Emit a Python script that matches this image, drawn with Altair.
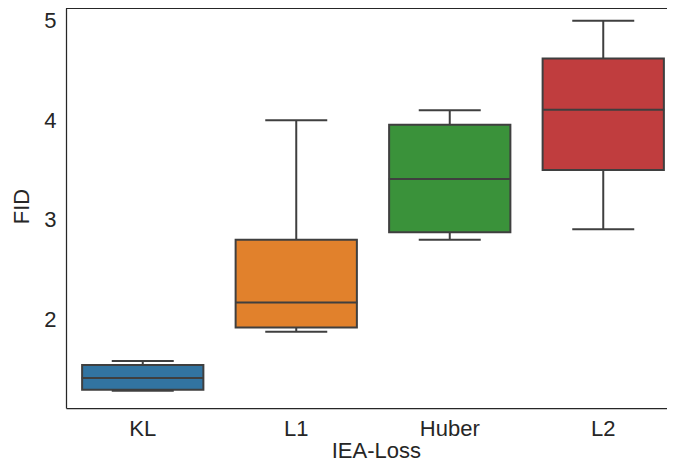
import altair as alt
import pandas as pd

categories = ["KL", "L1", "Huber", "L2"]
mins = [1.285, 1.877, 2.80, 2.906]
q1s = [1.294, 1.92, 2.876, 3.50]
medians = [1.411, 2.17, 3.41, 4.105]
q3s = [1.543, 2.80, 3.955, 4.62]
maxs = [1.583, 4.00, 4.10, 5.00]
colors = ["#3274a1", "#e1812c", "#3a923a", "#c03d3e"]
y_ticks = [2, 3, 4, 5]

df = pd.DataFrame({
    "loss": categories,
    "min": mins,
    "q1": q1s,
    "med": medians,
    "q3": q3s,
    "max": maxs,
})

line_col = "#3f3f3f"
text_col = "#262626"
FS = 22
W = 612       # plot width; its right edge lies past the window edge
XRANGE = 614  # full band range
H = 400

x = alt.X(
    "loss:N",
    sort=categories,
    scale=alt.Scale(paddingInner=0, paddingOuter=0, range=[0, XRANGE]),
    axis=alt.Axis(
        title="IEA-Loss", labelAngle=0, tickSize=0, ticks=False, labelPadding=10,
        domain=True, domainColor=text_col, domainWidth=1.25, grid=False,
        titleX=309.8, titleY=49, titleBaseline="alphabetic",
    ),
)
yscale = alt.Scale(domain=[1.111, 5.127], nice=False, zero=False)
yaxis = alt.Axis(
    title="FID", values=y_ticks, tickSize=0, ticks=False, labelPadding=10,
    domain=True, domainColor=text_col, domainWidth=1.25, grid=False,
    titleX=-38, titleY=198, titleBaseline="alphabetic",
)

base = alt.Chart(df)

top_frame = base.mark_rule(color=text_col, strokeWidth=1.25).encode(
    y=alt.value(0), x=alt.value(0), x2=alt.value(XRANGE)
)
whisker = base.mark_rule(color=line_col, strokeWidth=2).encode(
    x=x, y=alt.Y("min:Q", scale=yscale, axis=yaxis), y2="max:Q"
)
box = base.mark_bar(
    stroke=line_col, strokeWidth=2, width=alt.RelativeBandSize(0.79), opacity=1
).encode(
    x=x,
    y=alt.Y("q1:Q", scale=yscale, axis=yaxis),
    y2="q3:Q",
    color=alt.Color("loss:N", scale=alt.Scale(domain=categories, range=colors), legend=None),
)
cap_lo = base.mark_tick(color=line_col, thickness=2, size=62, opacity=1).encode(
    x=x, y=alt.Y("min:Q", scale=yscale, axis=yaxis)
)
cap_hi = base.mark_tick(color=line_col, thickness=2, size=62, opacity=1).encode(
    x=x, y=alt.Y("max:Q", scale=yscale, axis=yaxis)
)
median = base.mark_tick(color=line_col, thickness=2, size=122, opacity=1).encode(
    x=x, y=alt.Y("med:Q", scale=yscale, axis=yaxis)
)

chart = (
    alt.layer(whisker, box, cap_lo, cap_hi, median, top_frame)
    .properties(
        width=W,
        height=H,
        autosize=alt.AutoSizeParams(type="none"),
        padding={"left": 58, "top": 0, "right": -11, "bottom": 54},
    )
    .configure(font="Liberation Sans")
    .configure_view(stroke="#ffffff", strokeOpacity=0)
    .configure_axis(
        labelFontSize=FS, titleFontSize=FS, labelColor=text_col, titleColor=text_col,
        titleFontWeight="normal",
    )
)

chart.save("out.html", embed_options={"renderer": "svg", "actions": False})
